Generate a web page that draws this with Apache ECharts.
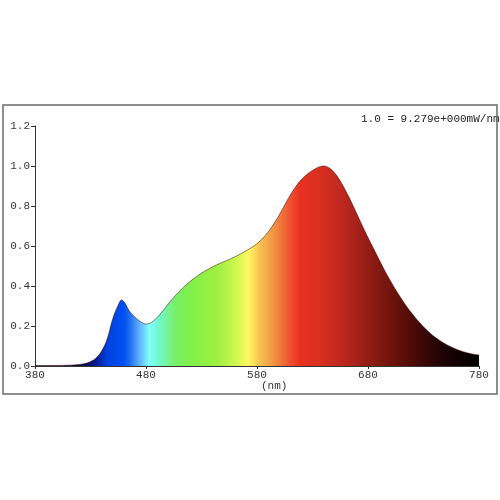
<!DOCTYPE html>
<html>
<head>
<meta charset="utf-8">
<style>html,body{margin:0;padding:0;background:#fff}#c{width:500px;height:500px}</style>
<script src="https://cdn.jsdelivr.net/npm/echarts@6/dist/echarts.min.js"></script>
</head>
<body>
<div id="c"></div>
<script>
const wavelengths = [380,390,400,410,420,425,430,435,440,445,450,455,458,461,465,470,475,480,485,490,495,500,505,510,515,520,525,530,535,540,545,550,555,560,565,570,575,580,585,590,595,600,605,610,615,620,625,630,635,640,645,650,655,660,665,670,675,680,685,690,695,700,705,710,715,720,725,730,735,740,745,750,755,760,765,770,775,780];
const intensities = [0.002,0.002,0.003,0.004,0.008,0.012,0.022,0.04,0.075,0.135,0.235,0.305,0.33,0.315,0.275,0.245,0.222,0.21,0.218,0.243,0.275,0.31,0.343,0.373,0.40,0.424,0.445,0.464,0.481,0.496,0.509,0.521,0.533,0.546,0.56,0.576,0.592,0.612,0.637,0.67,0.71,0.755,0.805,0.855,0.898,0.932,0.958,0.978,0.993,1.0,0.99,0.965,0.925,0.875,0.82,0.76,0.70,0.642,0.588,0.532,0.478,0.428,0.381,0.337,0.296,0.26,0.226,0.196,0.169,0.146,0.126,0.109,0.095,0.083,0.073,0.065,0.059,0.055];
const xTicks = [380,480,580,680,780];
const yTicks = [0,0.2,0.4,0.6,0.8,1.0,1.2];
const scaleNote = '1.0 = 9.279e+000mW/nm';
const xUnit = '(nm)';

const colorStops = [
  [380,'#000010'],[420,'#0a0a40'],[435,'#0a1a90'],[445,'#0040e0'],[460,'#0050f0'],
  [466,'#2070f0'],[474,'#60b0ff'],[483,'#80ffff'],[492,'#70f8c8'],[505,'#78f070'],
  [520,'#80f048'],[545,'#a0f040'],[562,'#d0f850'],[572,'#fff860'],[583,'#f8c050'],
  [596,'#f09040'],[610,'#f05030'],[619,'#e83020'],[637,'#d83020'],[655,'#c02820'],
  [673,'#a02018'],[691,'#801810'],[709,'#601008'],[727,'#400808'],[745,'#200404'],
  [763,'#100000'],[780,'#000000']
];
const stops = colorStops.map(s => ({offset:(s[0]-380)/400, color:s[1]}));

const chart = echarts.init(document.getElementById('c'), null, {renderer:'canvas'});
const mono = 'Liberation Mono, DejaVu Sans Mono, monospace';
chart.setOption({
  animation:false,
  backgroundColor:'#fff',
  grid:{left:35, right:21, top:126, bottom:134},
  xAxis:{
    type:'value', min:380, max:780, interval:100,
    axisLine:{show:true, lineStyle:{color:'#333', width:1}},
    axisTick:{show:true, length:3, lineStyle:{color:'#333'}},
    axisLabel:{color:'#333', fontFamily:mono, fontSize:11, margin:4,
      formatter:v => xTicks.includes(v) ? String(v) : ''},
    splitLine:{show:false}
  },
  yAxis:{
    type:'value', min:0, max:1.2, interval:0.2,
    axisLine:{show:true, lineStyle:{color:'#333', width:1}},
    axisTick:{show:true, length:4, lineStyle:{color:'#333'}},
    axisLabel:{color:'#333', fontFamily:mono, fontSize:11, margin:5,
      formatter:v => v.toFixed(1)},
    splitLine:{show:false}
  },
  series:[{
    type:'line',
    data:wavelengths.map((w,i)=>[w,intensities[i]]),
    smooth:0.4,
    symbol:'none',
    lineStyle:{color:'rgba(50,0,0,0.5)', width:1},
    areaStyle:{opacity:1, color:new echarts.graphic.LinearGradient(0,0,1,0,stops)},
    z:1
  }],
  graphic:[
    {type:'rect', shape:{x:3, y:105, width:494, height:289},
      style:{fill:'none', stroke:'#6a6a6a', lineWidth:1.5}, z:10},
    {type:'text', left:361, top:114,
      style:{text:scaleNote, font:'11px '+mono, fill:'#222'}, z:5},
    {type:'text', left:261, top:381,
      style:{text:xUnit, font:'11px '+mono, fill:'#333'}, z:5}
  ]
});
</script>
</body>
</html>
